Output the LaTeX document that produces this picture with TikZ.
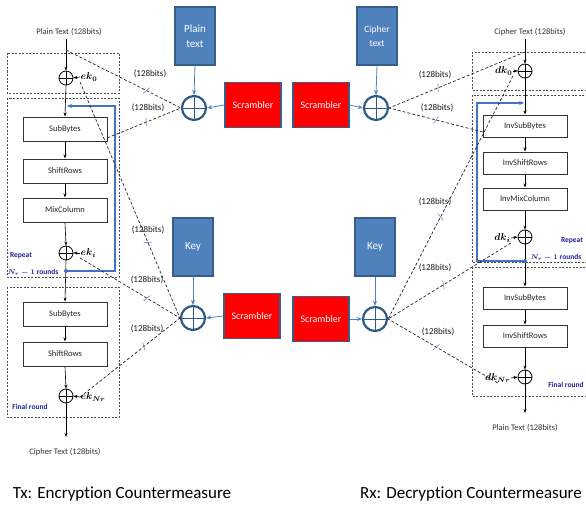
\documentclass[tikz,border=0pt]{standalone}
\usepackage{amsmath}
\usepackage{fontspec}
\setmainfont{Carlito}[Ligatures=NoCommon]
\usetikzlibrary{arrows.meta,decorations.markings}
\definecolor{boxblue}{HTML}{4F81BD}
\definecolor{boxedge}{HTML}{385D8A}
\definecolor{xorblue}{HTML}{2E5A8A}
\definecolor{loopblue}{HTML}{4472C4}
\definecolor{navy}{HTML}{1F1F99}
\definecolor{tickblue}{HTML}{6F9AD0}
\tikzset{
  stage/.style={draw=black!80, line width=1pt, fill=white, minimum width=84pt, minimum height=24pt, inner sep=0, font=\fontsize{8.5}{10}\selectfont, text=black!85},
  istage/.style={stage, minimum height=22pt},
  roundbox/.style={draw=black!70, dash pattern=on 2pt off 1.5pt, line width=0.8pt},
  sxor/.style={circle, draw=black, line width=0.8pt, minimum size=14pt, inner sep=0,
    path picture={\draw[black, line width=0.8pt] (path picture bounding box.north) -- (path picture bounding box.south) (path picture bounding box.west) -- (path picture bounding box.east);}},
  bxor/.style={circle, draw=xorblue, line width=2.2pt, minimum size=24pt, inner sep=0,
    path picture={\draw[xorblue, line width=0.8pt] (path picture bounding box.north) -- (path picture bounding box.south) (path picture bounding box.west) -- (path picture bounding box.east);}},
  srcbox/.style={fill=boxblue, draw=boxedge, line width=1.2pt, text=white, minimum width=40pt, minimum height=58pt, align=center, font=\fontsize{11}{15}\selectfont},
  scram/.style={fill=red, draw=boxedge, line width=1.2pt, text=white, minimum width=56pt, minimum height=45pt, font=\fontsize{10}{12}\selectfont},
  flow/.style={-{Stealth[length=4pt,width=3pt]}, line width=0.6pt, black},
  feed/.style={-{Stealth[length=5pt,width=4pt]}, line width=0.8pt, boxblue},
  link/.style={dash pattern=on 3pt off 2pt, line width=0.7pt, black!85},
  bitmark/.style={postaction={decorate, decoration={markings, mark=at position #1 with {\draw[tickblue, solid, line width=0.7pt] (-1.5pt,-4pt) -- (1.5pt,4pt);}}}},
  bits/.style={font=\fontsize{9}{10}\selectfont, inner sep=0, text=black!90},
  txt/.style={font=\fontsize{8.5}{10}\selectfont, inner sep=0, text=black!80},
  klab/.style={font=\fontsize{10}{12}\selectfont, inner sep=0.5pt},
  loopline/.style={draw=loopblue, line width=1.2pt},
  navylab/.style={font=\bfseries\fontsize{7.5}{9}\selectfont, text=navy, inner sep=0},
  caption/.style={font=\fontsize{17}{20}\selectfont, inner sep=0}
}
\begin{document}
\begin{tikzpicture}[x=1pt,y=-1pt]
\useasboundingbox (0,0) rectangle (586,511);

% ---------- left: encryption ----------
\draw[roundbox] (7,53) rectangle (119,93);
\draw[roundbox] (7,98) rectangle (119,277);
\draw[roundbox] (7,287) rectangle (119,417);

\node[txt] (ptL) at (69,32) {Plain Text (128bits)};
\coordinate (ptLtop) at (66,39);
\coordinate (ptLtap) at (66,50);
\node[sxor] (xL0) at (66,78) {};
\node[klab, anchor=west] (ek0) at (80,77) {$\boldsymbol{ek_0}$};
\node[stage] (sb1) at (65,129) {SubBytes};
\node[stage] (sr1) at (65,171) {ShiftRows};
\node[stage] (mc1) at (65,210) {MixColumn};
\node[sxor] (xL1) at (66,253) {};
\node[klab, anchor=west] (ek1) at (80,253) {$\boldsymbol{ek_i}$};
\coordinate (dotL) at (66,271);
\node[stage] (sb2) at (65,314) {SubBytes};
\node[stage] (sr2) at (65,354) {ShiftRows};
\node[sxor] (xL2) at (66,396) {};
\node[klab, anchor=west] (ekN) at (80,397) {$\boldsymbol{ek_{Nr}}$};
\coordinate (ctLend) at (66,437);
\node[txt] (ctL) at (65,452) {Cipher Text (128bits)};
\coordinate (sb1tap) at (107,138);

\node[navylab] (repL) at (21,256) {Repeat};
\node[navylab] (nrL) at (33,272) {$\boldsymbol{N_r-1}$ rounds};
\node[navylab] (finL) at (30,407) {Final round};

\draw[flow] (ptLtop) -- (xL0.north);
\draw[flow] (xL0.south) -- (sb1.north);
\draw[flow] (sb1) -- (sr1);
\draw[flow] (sr1) -- (mc1);
\draw[flow] (mc1.south) -- (xL1.north);
\draw[flow] (xL1.south) -- (sb2.north);
\draw[flow] (sb2) -- (sr2);
\draw[flow] (sr2.south) -- (xL2.north);
\draw[flow] (xL2.south) -- (ctLend);
\draw[flow] (ek0.west) -- (xL0.east);
\draw[flow] (ek1.west) -- (xL1.east);
\draw[flow] (ekN.west) -- (xL2.east);

\coordinate (lpL) at (115,106);
\coordinate (lpLend) at (67,106);
\draw[loopline, -{Stealth[length=5pt,width=4pt]}] (dotL) -| (lpL) -- (lpLend);
\fill[loopblue] (dotL) circle (2pt);

% ---------- right: decryption ----------
\draw[roundbox] (472,52) rectangle (592,90);
\draw[roundbox] (472,95) rectangle (592,262);
\draw[roundbox] (472,267) rectangle (592,396);

\node[txt] (ctR) at (530,32) {Cipher Text (128bits)};
\coordinate (ctRtop) at (525,39);
\coordinate (ctRtap) at (525,52);
\node[sxor] (xR0) at (525,71) {};
\node[klab, anchor=east] (dk0) at (513,71) {$\boldsymbol{dk_0}$};
\node[istage] (isb1) at (525,126) {InvSubBytes};
\node[istage] (isr1) at (525,163) {InvShiftRows};
\node[istage] (imc1) at (525,199) {InvMixColumn};
\node[sxor] (xR1) at (525,237) {};
\node[klab, anchor=east] (dki) at (511,238) {$\boldsymbol{dk_i}$};
\coordinate (dotR) at (525,261);
\node[istage] (isb2) at (525,298) {InvSubBytes};
\node[istage] (isr2) at (525,336) {InvShiftRows};
\node[sxor] (xR2) at (525,377) {};
\node[klab, anchor=east] (dkN) at (511,378) {$\boldsymbol{dk_{Nr}}$};
\coordinate (ptRend) at (525,413);
\node[txt] (ptR) at (525,428) {Plain Text (128bits)};
\coordinate (isb1tap) at (483,132);

\node[navylab] (repR) at (572,241) {Repeat};
\node[navylab] (nrR) at (556,257) {$\boldsymbol{N_r-1}$ rounds};
\node[navylab] (finR) at (566,385) {Final round};

\draw[flow] (ctRtop) -- (xR0.north);
\draw[flow] (xR0.south) -- (isb1.north);
\draw[flow] (isb1) -- (isr1);
\draw[flow] (isr1) -- (imc1);
\draw[flow] (imc1.south) -- (xR1.north);
\draw[flow] (xR1.south) -- (isb2.north);
\draw[flow] (isb2) -- (isr2);
\draw[flow] (isr2.south) -- (xR2.north);
\draw[flow] (xR2.south) -- (ptRend);
\draw[flow] (dk0.east) -- (xR0.west);
\draw[flow] (dki.east) -- (xR1.west);
\draw[flow] (dkN.east) -- (xR2.west);

\coordinate (lpR) at (477,103);
\coordinate (lpRend) at (524,103);
\draw[loopline, -{Stealth[length=5pt,width=4pt]}] (dotR) -| (lpR) -- (lpRend);
\fill[loopblue] (dotR) circle (2pt);

% ---------- middle ----------
\node[srcbox] (pt) at (195,36) {Plain\\text};
\node[bxor] (bxTL) at (194,108) {};
\node[scram] (scTL) at (253,105) {Scrambler};
\node[scram] (scTR) at (321,105) {Scrambler};
\node[srcbox, font=\fontsize{9.5}{14}\selectfont] (ct) at (377,36) {Cipher\\text};
\node[bxor] (bxTR) at (376,108) {};

\node[srcbox] (keyL) at (193,247) {Key};
\node[bxor] (bxKL) at (193,318) {};
\node[scram] (scBL) at (252,316) {Scrambler};
\node[scram] (scBR) at (321,319) {Scrambler};
\node[srcbox] (keyR) at (375,247) {Key};
\node[bxor] (bxKR) at (375,319) {};

\draw[feed] (pt.south) -- (bxTL.north);
\draw[feed] (ct.south) -- (bxTR.north);
\draw[feed] (keyL.south) -- (bxKL.north);
\draw[feed] (keyR.south) -- (bxKR.north);
\draw[feed] (scTL.west) -- (bxTL.east);
\draw[feed] (scTR.east) -- (bxTR.west);
\draw[feed] (scBL.west) -- (bxKL.east);
\draw[feed] (scBR.east) -- (bxKR.west);

% ---------- dashed links ----------
\draw[link, bitmark=0.70] (ptLtap) -- (bxTL.west);
\draw[link, bitmark=0.53] (sb1tap) -- (bxTL.west);
\draw[link, bitmark=0.68] (ek0.south west) -- (bxKL.west);
\draw[link, bitmark=0.67] (ek1.south west) -- (bxKL.west);
\draw[link, bitmark=0.64] (ekN.west) -- (bxKL.west);

\draw[link, bitmark=0.64] (ctRtap) -- (bxTR.east);
\draw[link, bitmark=0.50] (isb1tap) -- (bxTR.east);
\draw[link, bitmark=0.58] (dk0.south east) -- (bxKR.east);
\draw[link, bitmark=0.55] (dki.south east) -- (bxKR.east);
\draw[link, bitmark=0.56] (dkN.south) -- (bxKR.east);

\node[bits] (b1) at (150,74) {(128bits)};
\node[bits] (b2) at (148,108) {(128bits)};
\node[bits] (b3) at (148,230) {(128bits)};
\node[bits] (b4) at (147,280) {(128bits)};
\node[bits] (b5) at (147,329) {(128bits)};
\node[bits] (b6) at (435,75) {(128bits)};
\node[bits] (b7) at (437,108) {(128bits)};
\node[bits] (b8) at (435,202) {(128bits)};
\node[bits] (b9) at (435,268) {(128bits)};
\node[bits] (b10) at (438,332) {(128bits)};

% ---------- captions ----------
\node[caption] (capL) at (122,494) {Tx: Encryption Countermeasure};
\node[caption] (capR) at (471,494) {Rx: Decryption Countermeasure};
\end{tikzpicture}
\end{document}
